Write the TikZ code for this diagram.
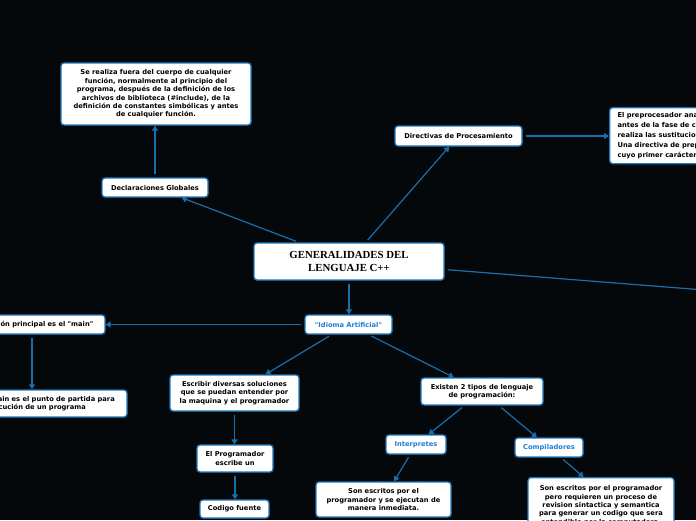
\documentclass[tikz,border=0pt]{standalone}
\usepackage{fontspec}
\usetikzlibrary{arrows.meta}
\newfontfamily\dvfont{DejaVu Sans}
\newfontfamily\tmsfont{Liberation Serif}
\definecolor{bgc}{HTML}{05080B}
\definecolor{edgec}{HTML}{1A6FAB}
\definecolor{borderc}{HTML}{1C78BE}
\definecolor{bluetxt}{HTML}{1E7FD6}
\tikzset{
  box/.style={draw=borderc, line width=1.3pt, fill=white, rounded corners=3pt,
    font=\dvfont\bfseries\fontsize{6.7}{8.4}\selectfont, align=center, inner sep=0pt, text=black},
  bluebox/.style={box, text=bluetxt},
  titlebox/.style={box, font=\tmsfont\bfseries\fontsize{10.8}{13.5}\selectfont},
  conn/.style={draw=edgec, line width=1.2pt, shorten <=3pt, -{Triangle[width=6pt,length=5pt]}},
  connplain/.style={draw=edgec, line width=1.2pt, shorten <=3pt}
}
\begin{document}
\begin{tikzpicture}[x=1pt,y=-1pt]
\useasboundingbox (0,0) rectangle (696,520);
\clip (0,0) rectangle (696,520);
\fill[bgc] (0,0) rectangle (696,520);

% nodes
\node[titlebox, minimum width=190pt, minimum height=37pt] (t) at (349,261.5) {GENERALIDADES DEL\\LENGUAJE C++};
\node[box, minimum width=190pt, minimum height=62pt] (gl) at (156,94) {Se realiza fuera del cuerpo de cualquier\\funci\'on, normalmente al principio del\\programa, despu\'es de la definici\'on de los\\archivos de biblioteca (\#include), de la\\definici\'on de constantes simb\'olicas y antes\\de cualquier funci\'on.};
\node[box, minimum width=106pt, minimum height=19pt] (dg) at (155,187.5) {Declaraciones Globales};
\node[box, minimum width=127pt, minimum height=20pt] (dir) at (458.5,136) {Directivas de Procesamiento};
\node[box, anchor=north west, align=left, inner xsep=8pt, minimum height=56pt, font=\dvfont\bfseries\fontsize{6.7}{9.8}\selectfont] (rb) at (609,107) {El preprocesador analiza el programa fuente\\antes de la fase de compilaci\'on real, y\\realiza las sustituciones de macros.\\Una directiva de preprocesador es una l\'inea\\cuyo primer car\'acter es \#.};
\coordinate (off) at (780,296);
\node[bluebox, minimum width=87pt, minimum height=19pt] (id) at (348.5,324.5) {"Idioma Artificial"};
\node[box, minimum width=146pt, minimum height=19pt] (mn) at (32,324.5) {La funci\'on principal es el "main"};
\node[box, minimum width=190pt, minimum height=27pt] (mn2) at (32,403.5) {La funci\'on main es el punto de partida para\\la ejecuci\'on de un programa};
\node[box, minimum width=129pt, minimum height=36pt] (esc) at (234.5,393) {Escribir diversas soluciones\\que se puedan entender por\\la maquina y el programador};
\node[box, minimum width=76pt, minimum height=27pt] (prog) at (235,458.5) {El Programador\\escribe un};
\node[box, minimum width=69pt, minimum height=18pt] (cod) at (234.5,509) {Codigo fuente};
\node[box, minimum width=122pt, minimum height=27pt] (ex) at (482,391.5) {Existen 2 tipos de lenguaje\\de programaci\'on:};
\node[bluebox, minimum width=60pt, minimum height=19pt] (int) at (416,444.5) {Interpretes};
\node[bluebox, minimum width=68pt, minimum height=19pt] (comp) at (549,447.5) {Compiladores};
\node[box, minimum width=135pt, minimum height=35pt] (s1) at (383.5,499.5) {Son escritos por el\\programador y se ejecutan de\\manera inmediata.};
\node[box, anchor=north, minimum width=146pt, minimum height=56pt] (s2) at (601,477) {Son escritos por el programador\\pero requieren un proceso de\\revision sintactica y semantica\\para generar un codigo que sera\\entendible por la computadora.};

% connectors
\draw[conn] (t) -- (dg);
\draw[conn] (dg.north) -- (dg.north |- gl.south);
\draw[conn] (t) -- (dir);
\draw[conn] (dir.east) -- (dir.east -| rb.west);
\draw[connplain] ([yshift=-8pt]t.east) -- (off);
\draw[conn] (t.south) -- (t.south |- id.north);
\draw[conn] (id.west) -- (id.west -| mn.east);
\draw[conn] (mn.south) -- (mn.south |- mn2.north);
\draw[conn] (id) -- (esc);
\draw[conn] (id) -- (ex);
\draw[conn] (esc.south) -- (esc.south |- prog.north);
\draw[conn] (prog.south) -- (prog.south |- cod.north);
\draw[conn] (ex) -- (int);
\draw[conn] (ex) -- (comp);
\draw[conn] (int) -- (s1);
\draw[conn] (comp) -- (s2.north -| comp.south east);
\end{tikzpicture}
\end{document}
